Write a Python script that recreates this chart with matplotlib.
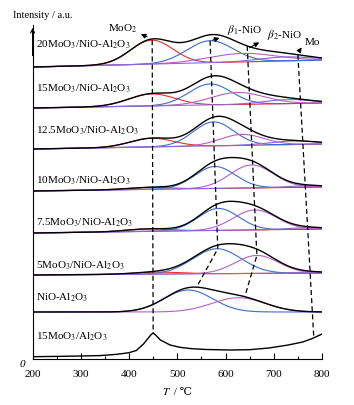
import numpy as np
import matplotlib
matplotlib.use('Agg')
import matplotlib.pyplot as plt
from matplotlib.ticker import MultipleLocator

plt.rcParams['font.family'] = ['Liberation Serif', 'DejaVu Serif']
plt.rcParams['mathtext.fontset'] = 'stix'

# Samples, stacked from top to bottom
samples = ['20MoO$_3$/NiO-Al$_2$O$_3$', '15MoO$_3$/NiO-Al$_2$O$_3$',
           '12.5MoO$_3$/NiO-Al$_2$O$_3$', '10MoO$_3$/NiO-Al$_2$O$_3$',
           '7.5MoO$_3$/NiO-Al$_2$O$_3$', '5MoO$_3$/NiO-Al$_2$O$_3$',
           'NiO-Al$_2$O$_3$']
offsets = [292, 251, 210, 168, 126, 84, 47]
baseline_rise = [7, 5, 5, 4, 4, 2, 0]

# Fitted peaks (centre / height / width)
moo2_center = [447, 447, 447, 440, 440, 460, 450]
moo2_height = [24, 12, 8.7, 2, 2.5, 2, 0]
moo2_width = [44, 48, 45, 45, 45, 50, 40]
b1_center = [568, 568, 575, 578, 585, 582, 523]
b1_height = [22, 21, 24, 22, 22, 25, 22]
b1_width = [48, 44, 42, 42, 42, 50, 50]
b2_center = [635, 625, 634, 654, 661, 665, 627]
b2_height = [8.5, 12, 11, 23, 20, 18, 14.3]
b2_width = [70, 55, 45, 45, 45, 45, 55]
mo_center = [725, 730, 740, 770, 770, 775, 750]
mo_height = [4, 4, 3.5, 1.5, 1.5, 1, 0]
mo_width = [55, 50, 50, 40, 40, 40, 40]

# 15MoO3/Al2O3 reference curve
al_label = '15MoO$_3$/Al$_2$O$_3$'
al_T = [200, 250, 300, 340, 375, 400, 415, 430, 440, 446, 450, 455, 465, 485,
        505, 530, 560, 610, 650, 690, 730, 760, 780, 800]
al_I = [2.3, 2.6, 3.0, 3.4, 4.7, 6.3, 8.5, 15, 21, 24.5, 26, 24, 19, 14,
        11.7, 10.3, 9.5, 9, 9.3, 11, 14, 17, 20.5, 25]

# Guide lines: temperatures where the dashed lines meet the curves
moo2_guide_T = [448, 450]
b1_guide_T = [568, 584, 540]
b2_guide_T = [645, 665, 640]
mo_guide_T = [750, 783]

label_y = [312, 268, 226, 176, 134, 91, 58]

c_red = '#e8302a'
c_blue = '#3b6cd0'
c_purple = '#b660c6'
c_violet = '#8c68d2'

T = np.linspace(200, 800, 601)


def peak(c, h, w):
    return h * np.exp(-(T - c) ** 2 / (2 * w ** 2))


def row(i):
    base = offsets[i] + baseline_rise[i] * (T - 200) / 600
    comps = [peak(moo2_center[i], moo2_height[i], moo2_width[i]),
             peak(b1_center[i], b1_height[i], b1_width[i]),
             peak(b2_center[i], b2_height[i], b2_width[i]),
             peak(mo_center[i], mo_height[i], mo_width[i])]
    return base, comps


fig = plt.figure(figsize=(3.54, 4.05), dpi=100)
ax = fig.add_axes([0.092, 0.1136, 0.8176, 0.8246])

rows = []
for i in range(len(samples)):
    base, comps = row(i)
    rows.append((base, comps))
    for comp, col, h in zip(comps, [c_red, c_blue, c_purple, c_violet],
                            [moo2_height[i], b1_height[i], b2_height[i], mo_height[i]]):
        if h > 0:
            ax.plot(T, base + comp, color=col, lw=0.8)
    ax.plot(T, base + sum(comps), color='black', lw=1.0)
    ax.text(207, label_y[i], samples[i], fontsize=8, va='baseline')

ax.plot(al_T, al_I, color='black', lw=1.0)
ax.text(207, 19, al_label, fontsize=8, va='baseline')


def at(curve, t):
    return np.interp(t, T, curve)


b0, c0 = rows[0]
b5, c5 = rows[5]
b6, c6 = rows[6]
dash = dict(color='black', lw=0.9, dashes=(4, 2.5))

ax.plot(moo2_guide_T, [at(b0 + c0[0], moo2_guide_T[0]), np.interp(moo2_guide_T[1], al_T, al_I)], **dash)
ax.plot(b1_guide_T, [at(b0 + c0[1], b1_guide_T[0]), at(b5 + c5[1], b1_guide_T[1]),
                     at(b6 + sum(c6), b1_guide_T[2])], **dash)
ax.plot(b2_guide_T, [at(b0 + sum(c0), b2_guide_T[0]), at(b5 + c5[2], b2_guide_T[1]),
                     at(b6 + sum(c6), b2_guide_T[2])], **dash)
ax.plot(mo_guide_T, [at(b0 + sum(c0), mo_guide_T[0]), np.interp(mo_guide_T[1], al_T, al_I)], **dash)

# Peak labels with arrows
arrow = dict(arrowstyle='-|>', color='black', lw=0.8, mutation_scale=7)
ax.annotate('', xy=(419, 326), xytext=(443, 321), arrowprops=arrow)
ax.annotate('', xy=(593, 322), xytext=(568, 318), arrowprops=arrow)
ax.annotate('', xy=(675, 318), xytext=(645, 310), arrowprops=arrow)
ax.annotate('', xy=(761, 314), xytext=(750, 306), arrowprops=arrow)
ax.text(356, 328, 'MoO$_2$', fontsize=8, va='baseline')
ax.text(603, 326, r'$\beta_1$-NiO', fontsize=8, va='baseline')
ax.text(686, 321, r'$\beta_2$-NiO', fontsize=8, va='baseline')
ax.text(765, 314, 'Mo', fontsize=8, va='baseline')

ax.set_xlim(200, 800)
ax.set_ylim(0, 334)
ax.spines['top'].set_visible(False)
ax.spines['right'].set_visible(False)
ax.set_yticks([])
ax.xaxis.set_major_locator(MultipleLocator(100))
ax.xaxis.set_minor_locator(MultipleLocator(50))
ax.tick_params(axis='x', which='major', direction='in', length=4, width=0.8, labelsize=8, pad=8)
ax.tick_params(axis='x', which='minor', direction='in', length=2.5, width=0.8)
ax.annotate('', xy=(0, 1.0), xytext=(0, 0.9), xycoords='axes fraction',
            arrowprops=dict(arrowstyle='->', color='black', lw=0.8, mutation_scale=7))

fig.text(0.037, 0.956, 'Intensity / a.u.', fontsize=7.5, va='baseline')
fig.text(0.056, 0.094, '0', fontsize=8, style='italic', va='baseline')
fig.text(0.482, 0.025, '$T$', fontsize=8, ha='right', va='baseline')
fig.text(0.482, 0.025, ' / ℃', fontsize=8, ha='left', va='baseline')

fig.savefig('out.png', dpi=100)
